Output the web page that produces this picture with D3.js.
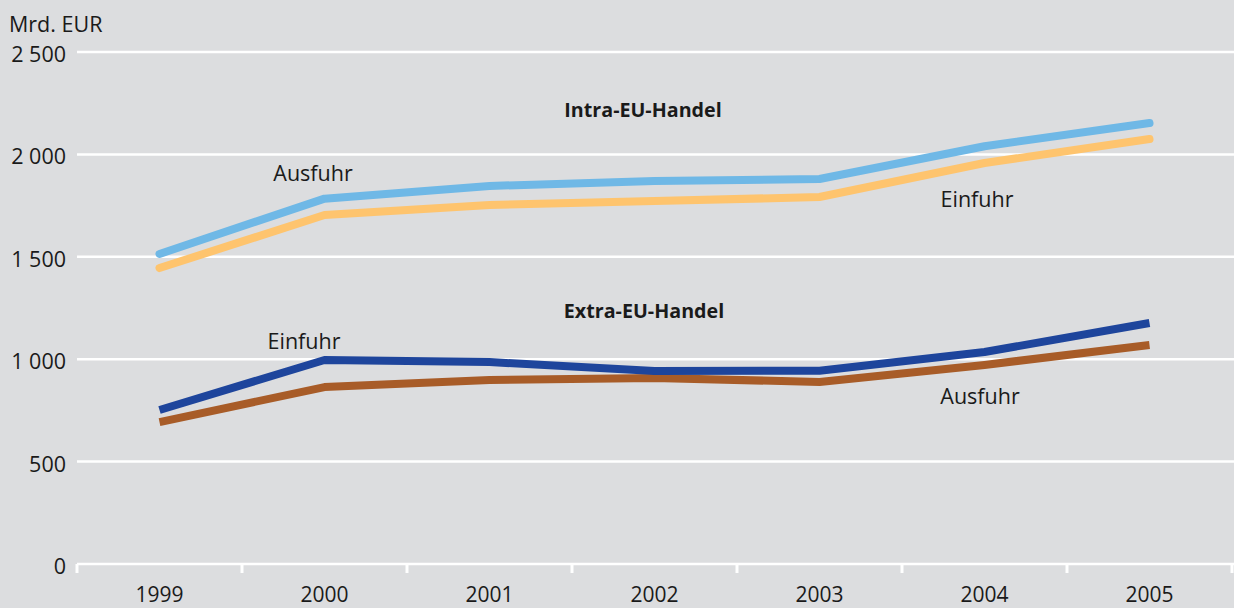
<!DOCTYPE html>
<html><head><meta charset="utf-8">
<script src="https://cdn.jsdelivr.net/npm/d3@7"></script>
<style>
html,body{margin:0;padding:0;background:#dcdddf;}
svg{display:block;font-family:"Open Sans",sans-serif;}
</style></head><body>
<script>
const years = ["1999","2000","2001","2002","2003","2004","2005"];
const intraAusfuhr = [1514, 1784, 1846, 1870, 1880, 2040, 2153];
const intraEinfuhr = [1445, 1704, 1753, 1772, 1792, 1958, 2075];
const extraEinfuhr = [752, 996, 986, 942, 944, 1035, 1177];
const extraAusfuhr = [693, 864, 898, 908, 889, 972, 1069];
const yTicks = [0, 500, 1000, 1500, 2000, 2500];
const yTickLabels = ["0", "500", "1 000", "1 500", "2 000", "2 500"];
const unitLabel = "Mrd. EUR";

const W = 1234, H = 608;
const svg = d3.select("body").append("svg").attr("width", W).attr("height", H);
svg.append("rect").attr("width", W).attr("height", H).attr("fill", "#dcdddf");

const x = d3.scaleBand().domain(years).range([77, 1232]).paddingInner(0).paddingOuter(0);
const y = d3.scaleLinear().domain([0, 2500]).range([564, 52]);
const xc = d => x(d) + x.bandwidth() / 2;

// gridlines
svg.append("g").selectAll("line").data(yTicks).join("line")
  .attr("x1", 77).attr("x2", W).attr("y1", d => y(d)).attr("y2", d => y(d))
  .attr("stroke", "#fff").attr("stroke-width", 2.5);

// y labels
svg.append("g").selectAll("text").data(yTicks).join("text")
  .attr("x", 66).attr("y", d => y(d) + 10).attr("text-anchor", "end")
  .attr("font-size", 21.5).attr("fill", "#1a1a1a").text((d, i) => yTickLabels[i]);
svg.append("text").attr("x", 9).attr("y", 32).attr("font-size", 21.5).attr("fill", "#1a1a1a").text(unitLabel);

// x ticks
const bounds = years.map(d => x(d)).concat([x(years[years.length - 1]) + x.bandwidth()]);
svg.append("g").selectAll("line").data(bounds).join("line")
  .attr("x1", d => d).attr("x2", d => d).attr("y1", 564).attr("y2", 573)
  .attr("stroke", "#fff").attr("stroke-width", 3);
svg.append("g").selectAll("text").data(years).join("text")
  .attr("x", d => xc(d)).attr("y", 602).attr("text-anchor", "middle")
  .attr("font-size", 21).attr("fill", "#1a1a1a").text(d => d);

const line = d3.line().x((d, i) => xc(years[i])).y(d => y(d));
const series = [
  {v: intraEinfuhr, c: "#fec46e", cap: "round", w: 8},
  {v: intraAusfuhr, c: "#6fb8e6", cap: "round", w: 8},
  {v: extraAusfuhr, c: "#a85c28", cap: "butt", w: 8},
  {v: extraEinfuhr, c: "#1e459c", cap: "butt", w: 8}
];
svg.append("g").selectAll("path").data(series).join("path")
  .attr("d", d => line(d.v)).attr("fill", "none")
  .attr("stroke", d => d.c).attr("stroke-width", d => d.w)
  .attr("stroke-linecap", d => d.cap).attr("stroke-linejoin", "round");

const labels = [
  {t: "Intra-EU-Handel", x: 643, y: 117, b: true},
  {t: "Extra-EU-Handel", x: 644, y: 318, b: true},
  {t: "Ausfuhr", x: 313, y: 181, b: false},
  {t: "Einfuhr", x: 977, y: 207, b: false},
  {t: "Einfuhr", x: 304, y: 349, b: false},
  {t: "Ausfuhr", x: 980, y: 404, b: false}
];
svg.append("g").selectAll("text").data(labels).join("text")
  .attr("x", d => d.x).attr("y", d => d.y).attr("text-anchor", "middle")
  .attr("font-size", d => d.b ? 19.7 : 21.5).attr("font-weight", d => d.b ? "bold" : "normal")
  .attr("fill", "#1a1a1a").text(d => d.t);
</script>
</body></html>
